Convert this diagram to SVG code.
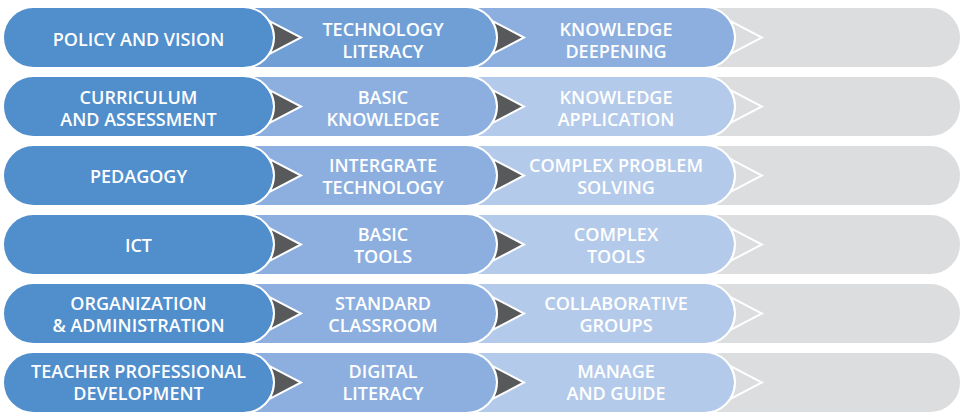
<svg xmlns="http://www.w3.org/2000/svg" xmlns:xlink="http://www.w3.org/1999/xlink" width="965" height="412" viewBox="0 0 965 412">
<style>
.cap{stroke:#FFFFFF;stroke-width:2}
.c1{fill:#508ECC}
.c2a{fill:#709FD6}
.c3a{fill:#8CAFDF}
.c2{fill:#8CAFDF}
.c3{fill:#B4CAEA}
.c4{fill:#DCDDDE}
.t{font-family:"Open Sans","Noto Sans","Liberation Sans",sans-serif;font-weight:600;font-size:18px;fill:#FFFFFF;text-anchor:middle}
.ad{fill:#58595B;stroke:#FFFFFF;stroke-width:2;stroke-linejoin:miter}
.ag{fill:#DCDDDE;stroke:#FFFFFF;stroke-width:2;stroke-linejoin:miter}
</style>
<defs>
<path id="arr" d="M -4.9 -16.6 L 27 0 L -4.9 16.6 A 30.5 30.5 0 0 0 -4.9 -16.6 Z"/>
</defs>
<rect width="965" height="412" fill="#FFFFFF"/>

<!-- Row 1 -->
<g id="r1-empty"><rect class="cap c4" x="680" y="7" width="281" height="61" rx="30.5"/></g>
<g id="r1-knowledge-deepening"><rect class="cap c3a" x="440" y="7" width="295" height="61" rx="30.5"/>
<text class="t" x="616" y="36">KNOWLEDGE</text><text class="t" x="616" y="58">DEEPENING</text></g>
<g id="r1-technology-literacy"><rect class="cap c2a" x="200" y="7" width="297" height="61" rx="30.5"/>
<text class="t" x="383" y="36">TECHNOLOGY</text><text class="t" x="383" y="58">LITERACY</text></g>
<g id="r1-policy"><rect class="cap c1" x="3" y="7" width="271" height="61" rx="30.5"/>
<text class="t" x="138.5" y="46">POLICY AND VISION</text></g>

<!-- Row 2 -->
<g id="r2-empty"><rect class="cap c4" x="680" y="76" width="281" height="61" rx="30.5"/></g>
<g id="r2-knowledge-application"><rect class="cap c3" x="440" y="76" width="295" height="61" rx="30.5"/>
<text class="t" x="616" y="104">KNOWLEDGE</text><text class="t" x="616" y="126">APPLICATION</text></g>
<g id="r2-basic-knowledge"><rect class="cap c2" x="200" y="76" width="297" height="61" rx="30.5"/>
<text class="t" x="383" y="104">BASIC</text><text class="t" x="383" y="126">KNOWLEDGE</text></g>
<g id="r2-curriculum"><rect class="cap c1" x="3" y="76" width="271" height="61" rx="30.5"/>
<text class="t" x="138.5" y="104">CURRICULUM</text><text class="t" x="138.5" y="126">AND ASSESSMENT</text></g>

<!-- Row 3 -->
<g id="r3-empty"><rect class="cap c4" x="680" y="145" width="281" height="61" rx="30.5"/></g>
<g id="r3-complex-problem"><rect class="cap c3" x="440" y="145" width="295" height="61" rx="30.5"/>
<text class="t" x="616" y="172">COMPLEX PROBLEM</text><text class="t" x="616" y="194">SOLVING</text></g>
<g id="r3-integrate"><rect class="cap c2" x="200" y="145" width="297" height="61" rx="30.5"/>
<text class="t" x="383" y="172">INTERGRATE</text><text class="t" x="383" y="194">TECHNOLOGY</text></g>
<g id="r3-pedagogy"><rect class="cap c1" x="3" y="145" width="271" height="61" rx="30.5"/>
<text class="t" x="138.5" y="183">PEDAGOGY</text></g>

<!-- Row 4 -->
<g id="r4-empty"><rect class="cap c4" x="680" y="214" width="281" height="61" rx="30.5"/></g>
<g id="r4-complex-tools"><rect class="cap c3" x="440" y="214" width="295" height="61" rx="30.5"/>
<text class="t" x="616" y="240.5">COMPLEX</text><text class="t" x="616" y="262.5">TOOLS</text></g>
<g id="r4-basic-tools"><rect class="cap c2" x="200" y="214" width="297" height="61" rx="30.5"/>
<text class="t" x="383" y="240.5">BASIC</text><text class="t" x="383" y="262.5">TOOLS</text></g>
<g id="r4-ict"><rect class="cap c1" x="3" y="214" width="271" height="61" rx="30.5"/>
<text class="t" x="138.5" y="251.5">ICT</text></g>

<!-- Row 5 -->
<g id="r5-empty"><rect class="cap c4" x="680" y="283" width="281" height="61" rx="30.5"/></g>
<g id="r5-collaborative"><rect class="cap c3" x="440" y="283" width="295" height="61" rx="30.5"/>
<text class="t" x="616" y="309.5">COLLABORATIVE</text><text class="t" x="616" y="331.5">GROUPS</text></g>
<g id="r5-standard"><rect class="cap c2" x="200" y="283" width="297" height="61" rx="30.5"/>
<text class="t" x="383" y="309.5">STANDARD</text><text class="t" x="383" y="331.5">CLASSROOM</text></g>
<g id="r5-organization"><rect class="cap c1" x="3" y="283" width="271" height="61" rx="30.5"/>
<text class="t" x="138.5" y="309.5">ORGANIZATION</text><text class="t" x="138.5" y="331.5">&amp; ADMINISTRATION</text></g>

<!-- Row 6 -->
<g id="r6-empty"><rect class="cap c4" x="680" y="352" width="281" height="61" rx="30.5"/></g>
<g id="r6-manage"><rect class="cap c3" x="440" y="352" width="295" height="61" rx="30.5"/>
<text class="t" x="616" y="378">MANAGE</text><text class="t" x="616" y="400">AND GUIDE</text></g>
<g id="r6-digital"><rect class="cap c2" x="200" y="352" width="297" height="61" rx="30.5"/>
<text class="t" x="383" y="378">DIGITAL</text><text class="t" x="383" y="400">LITERACY</text></g>
<g id="r6-teacher"><rect class="cap c1" x="3" y="352" width="271" height="61" rx="30.5"/>
<text class="t" x="138.5" y="378">TEACHER PROFESSIONAL</text><text class="t" x="138.5" y="400">DEVELOPMENT</text></g>

<g id="connectors">
<use xlink:href="#arr" class="ad" x="274" y="37.5"/><use xlink:href="#arr" class="ad" x="497" y="37.5"/><use xlink:href="#arr" class="ag" x="735" y="37.5"/>
<use xlink:href="#arr" class="ad" x="274" y="106.5"/><use xlink:href="#arr" class="ad" x="497" y="106.5"/><use xlink:href="#arr" class="ag" x="735" y="106.5"/>
<use xlink:href="#arr" class="ad" x="274" y="175.5"/><use xlink:href="#arr" class="ad" x="497" y="175.5"/><use xlink:href="#arr" class="ag" x="735" y="175.5"/>
<use xlink:href="#arr" class="ad" x="274" y="244.5"/><use xlink:href="#arr" class="ad" x="497" y="244.5"/><use xlink:href="#arr" class="ag" x="735" y="244.5"/>
<use xlink:href="#arr" class="ad" x="274" y="313.5"/><use xlink:href="#arr" class="ad" x="497" y="313.5"/><use xlink:href="#arr" class="ag" x="735" y="313.5"/>
<use xlink:href="#arr" class="ad" x="274" y="382.5"/><use xlink:href="#arr" class="ad" x="497" y="382.5"/><use xlink:href="#arr" class="ag" x="735" y="382.5"/>
</g>
</svg>
